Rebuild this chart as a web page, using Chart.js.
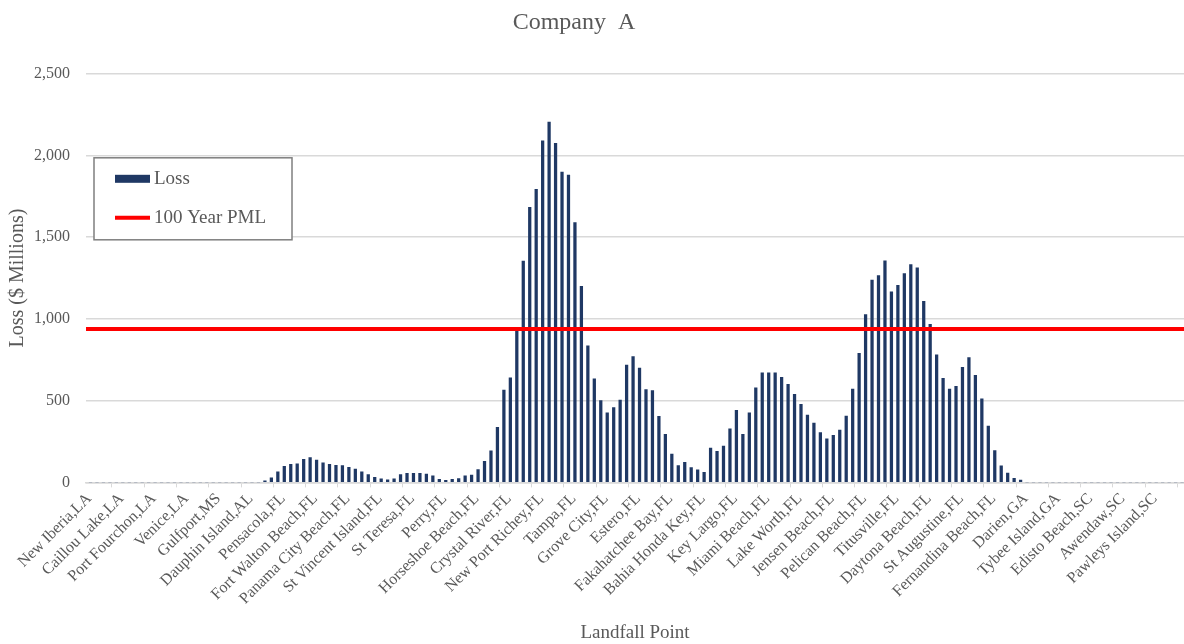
<!DOCTYPE html>
<html>
<head>
<meta charset="utf-8">
<script src="https://cdn.jsdelivr.net/npm/chart.js@4"></script>
<style>
  html, body { margin: 0; padding: 0; background: #fff; }
  #wrap { width: 1184px; height: 644px; position: relative; }
</style>
</head>
<body>
<div id="wrap"><canvas id="chart"></canvas></div>
<script>
// landfall points labelled on the axis (every 5th category)
var landfallNames = [
    'New Iberia,LA', 'Caillou Lake,LA', 'Port Fourchon,LA', 'Venice,LA', 'Gulfport,MS',
    'Dauphin Island,AL', 'Pensacola,FL', 'Fort Walton Beach,FL', 'Panama City Beach,FL',
    'St Vincent Island,FL', 'St Teresa,FL', 'Perry,FL', 'Horseshoe Beach,FL', 'Crystal River,FL',
    'New Port Richey,FL', 'Tampa,FL', 'Grove City,FL', 'Estero,FL', 'Fakahatchee Bay,FL',
    'Bahia Honda Key,FL', 'Key Largo,FL', 'Miami Beach,FL', 'Lake Worth,FL', 'Jensen Beach,FL',
    'Pelican Beach,FL', 'Titusville,FL', 'Daytona Beach,FL', 'St Augustine,FL',
    'Fernandina Beach,FL', 'Darien,GA', 'Tybee Island,GA', 'Edisto Beach,SC', 'Awendaw,SC',
    'Pawleys Island,SC'
];
var labelEvery = 5;

// loss by landfall point ($ millions), 170 points
var lossWest = [
    0, 0, 0, 0, 0, 0, 0, 0, 0, 0, 0, 0, 0, 0, 0, 0, 0, 0, 0, 0, 0, 0, 0, 0, 0, 0, 0,
    10, 27, 65, 98, 110, 114, 141, 151, 137, 120, 110, 104, 102, 92, 82, 65, 47, 31, 21, 15,
    21, 47, 55, 55, 55, 50, 40, 18, 12, 18, 23, 40, 45, 78, 128, 193, 336
];
var lossGulf = [
    564, 640, 930, 1354, 1683, 1793, 2090, 2204, 2074, 1898, 1881, 1589, 1200, 836, 634,
    501, 425, 458, 503, 717, 770, 700, 568, 562, 404, 294, 173, 102, 122, 90, 76, 61,
    210, 190, 222, 327, 441, 294, 425, 578, 671, 671, 671, 643, 600, 539, 478, 412, 363,
    305, 266, 288, 320, 405
];
var lossEast = [
    571, 790, 1027, 1238, 1265, 1355, 1166, 1205, 1277, 1332, 1312, 1107, 967, 780, 636,
    571, 587, 704, 764, 655, 511, 345, 195, 101, 57, 25, 14,
    0, 0, 0, 0, 0, 0, 0, 0, 0, 0, 0, 0, 0, 0, 0, 0, 0, 0, 0, 0, 0, 0, 0, 0, 0
];
var pml100 = 938;

var yTicks = [0, 500, 1000, 1500, 2000, 2500];

var loss = lossWest.concat(lossGulf, lossEast);
var categories = loss.map(function (v, i) {
    return i % labelEvery === 0 ? landfallNames[i / labelEvery] : '';
});

var serif = '"Liberation Serif", "Times New Roman", serif';
Chart.defaults.font.family = serif;
Chart.defaults.color = '#595959';

// title sits a bit left of the canvas centre, as in the workbook
var titleShift = {
    id: 'titleShift',
    afterLayout: function (chart) {
        var t = chart.titleBlock;
        if (t) t.right = t.left + 2 * 570;
    }
};

// Excel style legend box sitting inside the plot
var legendBox = {
    id: 'legendBox',
    afterDraw: function (chart) {
        var ctx = chart.ctx, area = chart.chartArea;
        var x = area.left + 8, y = area.top + 84, w = 198, h = 82;
        ctx.save();
        ctx.fillStyle = '#ffffff';
        ctx.fillRect(x, y, w, h);
        ctx.strokeStyle = '#7f7f7f';
        ctx.lineWidth = 1.5;
        ctx.strokeRect(x, y, w, h);
        var ds = chart.data.datasets;
        var bar = ds[1], line = ds[0];
        ctx.fillStyle = bar.backgroundColor;
        ctx.fillRect(x + 21, y + 17, 35, 8);
        ctx.strokeStyle = line.borderColor;
        ctx.lineWidth = 4;
        ctx.beginPath();
        ctx.moveTo(x + 21, y + 60);
        ctx.lineTo(x + 56, y + 60);
        ctx.stroke();
        ctx.fillStyle = '#595959';
        ctx.font = '19px ' + serif;
        ctx.textBaseline = 'middle';
        ctx.fillText(bar.label, x + 60, y + 21);
        ctx.fillText(line.label, x + 60, y + 60);
        ctx.restore();
    }
};

new Chart(document.getElementById('chart'), {
    type: 'bar',
    data: {
        labels: categories,
        datasets: [{
            type: 'line',
            label: '100 Year PML',
            xAxisID: 'x2',
            data: [{ x: 0, y: pml100 }, { x: 1, y: pml100 }],
            borderColor: '#ff0000',
            borderWidth: 4,
            pointRadius: 0,
            order: 0
        }, {
            label: 'Loss',
            data: loss,
            backgroundColor: '#1f3864',
            barThickness: 2.6,
            order: 1
        }]
    },
    options: {
        responsive: true,
        maintainAspectRatio: false,
        animation: false,
        layout: { padding: { left: 4, right: 0, top: 0, bottom: 0 } },
        plugins: {
            legend: { display: false },
            tooltip: { enabled: false },
            title: {
                display: true,
                text: 'Company  A',
                color: '#595959',
                font: { size: 24, weight: 'normal' },
                padding: { top: 8, bottom: 37 }
            }
        },
        scales: {
            x: {
                type: 'category',
                afterFit: function (axis) {
                    axis.paddingLeft = 0;
                    axis.paddingRight = 0;
                },
                grid: {
                    drawOnChartArea: false,
                    tickLength: 5,
                    color: function (c) { return c.index % labelEvery === labelEvery - 1 ? '#d9d9d9' : 'rgba(0,0,0,0)'; }
                },
                border: { display: true, color: '#d9d9d9', width: 1.5 },
                ticks: {
                    autoSkip: false,
                    maxRotation: 45,
                    minRotation: 45,
                    padding: 2,
                    font: { size: 16 },
                    color: '#595959'
                },
                title: {
                    display: true,
                    text: 'Landfall Point',
                    color: '#595959',
                    font: { size: 19 },
                    padding: { top: 11, bottom: 0 }
                }
            },
            x2: {
                type: 'linear',
                min: 0,
                max: 1,
                offset: false,
                display: false
            },
            y: {
                min: yTicks[0],
                max: yTicks[yTicks.length - 1],
                afterBuildTicks: function (axis) {
                    axis.ticks = yTicks.map(function (v) { return { value: v }; });
                },
                afterFit: function (axis) {
                    axis.width = 82;
                },
                grid: { color: '#d9d9d9', lineWidth: 1.5, drawTicks: false },
                border: { display: false },
                ticks: {
                    padding: 16,
                    font: { size: 16 },
                    color: '#595959',
                    callback: function (v) { return v.toLocaleString('en-US'); }
                },
                title: {
                    display: true,
                    text: 'Loss ($ Millions)',
                    color: '#595959',
                    font: { size: 20 },
                    padding: { top: 2, bottom: 4 }
                }
            }
        }
    },
    plugins: [titleShift, legendBox]
});
</script>
</body>
</html>
